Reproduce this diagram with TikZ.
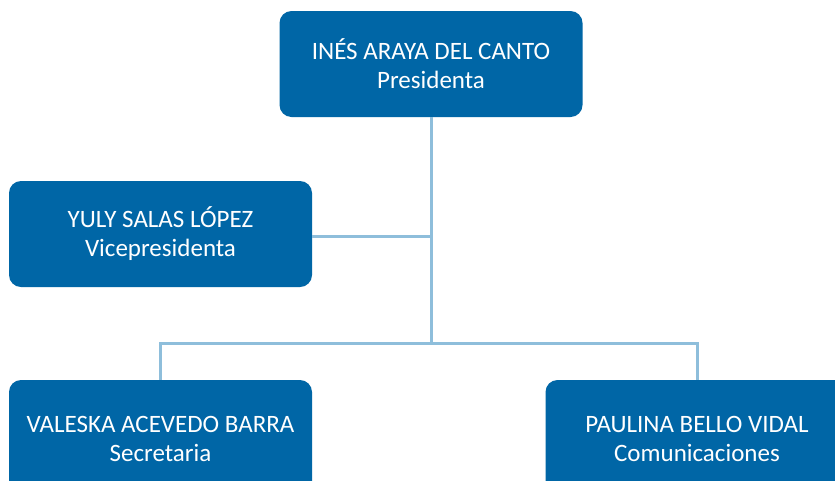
\documentclass[tikz,border=0pt]{standalone}
\usepackage{fontspec}
\setmainfont{Carlito}
\definecolor{boxblue}{HTML}{0066A6}
\definecolor{lineblue}{HTML}{8EBEDB}
\begin{document}
\begin{tikzpicture}[x=1pt,y=-1pt,
  orgbox/.style={rectangle, rounded corners=12pt, fill=boxblue, text=white,
    minimum width=303pt, align=center, font=\fontsize{25}{29}\selectfont, inner sep=0pt},
  conn/.style={draw=lineblue, line width=3pt}]
\useasboundingbox (0,0) rectangle (835,480);
\clip (0,0) rectangle (835,480);
\fill[white] (0,0) rectangle (835,480);
\node[orgbox, minimum height=106pt] (pres) at (431,64) {INÉS ARAYA DEL CANTO\\Presidenta};
\node[orgbox, minimum height=106pt] (vice) at (160.5,234) {YULY SALAS LÓPEZ\\Vicepresidenta};
\node[orgbox, minimum height=118pt] (secr) at (160.5,439) {VALESKA ACEVEDO BARRA\\Secretaria};
\node[orgbox, minimum height=118pt] (comu) at (697,439) {PAULINA BELLO VIDAL\\Comunicaciones};
\coordinate (j1) at (431,236);
\coordinate (j2) at (431,343);
\draw[conn] (pres.south) -- (j2);
\draw[conn] (vice.east |- j1) -- (j1);
\draw[conn] (secr.north) -- (secr.north |- j2) -- (comu.north |- j2) -- (comu.north);
\end{tikzpicture}
\end{document}
